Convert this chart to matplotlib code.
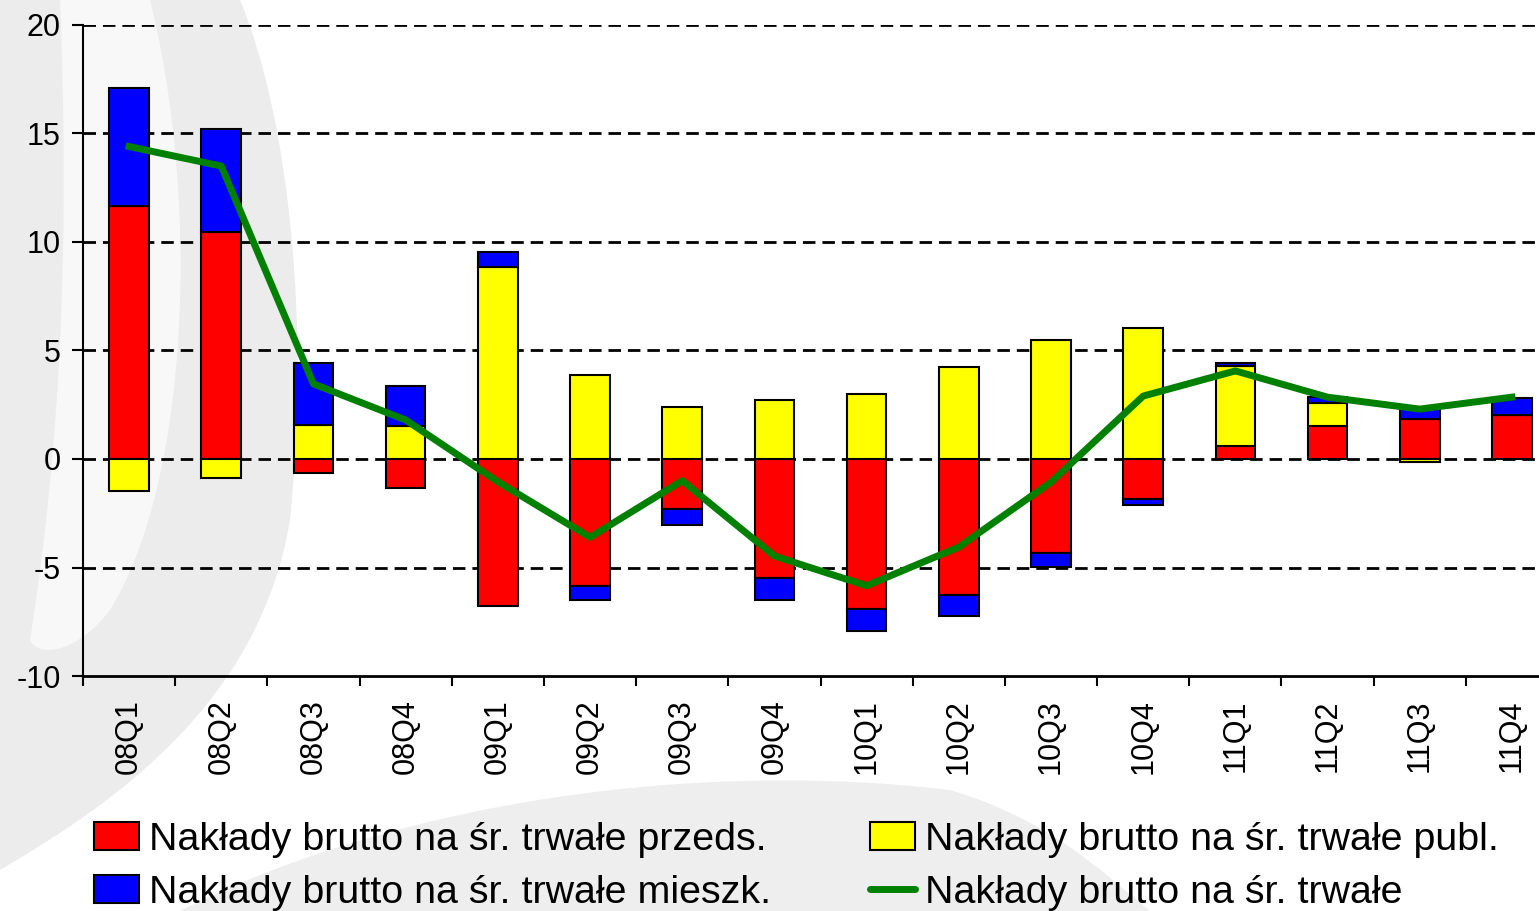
import numpy as np
import matplotlib
matplotlib.use("Agg")
import matplotlib.pyplot as plt
from matplotlib.patches import Patch, PathPatch
from matplotlib.lines import Line2D
from matplotlib.path import Path

plt.rcParams["font.family"] = ["Liberation Sans", "DejaVu Sans"]
plt.rcParams["axes.unicode_minus"] = False

# data (r/r, %)
quarters = ["08Q1", "08Q2", "08Q3", "08Q4", "09Q1", "09Q2", "09Q3", "09Q4",
            "10Q1", "10Q2", "10Q3", "10Q4", "11Q1", "11Q2", "11Q3", "11Q4"]
przeds = [11.67, 10.47, -0.64, -1.35, -6.76, -5.84, -2.30, -5.48,
          -6.91, -6.27, -4.33, -1.84, 0.61, 1.51, 1.84, 2.03]
publ = [-1.46, -0.89, 1.58, 1.53, 8.83, 3.87, 2.41, 2.73,
        3.00, 4.25, 5.48, 6.02, 3.69, 1.07, -0.12, 0.0]
mieszk = [5.43, 4.73, 2.84, 1.85, 0.72, -0.64, -0.73, -1.00,
          -1.00, -0.95, -0.63, -0.26, 0.12, 0.26, 0.56, 0.78]
ogolem = [14.4, 13.5, 3.46, 1.8, -1.05, -3.61, -1.0, -4.47,
          -5.84, -4.06, -1.07, 2.9, 4.06, 2.85, 2.3, 2.85]

labels = ["Nakłady brutto na śr. trwałe przeds.",
          "Nakłady brutto na śr. trwałe publ.",
          "Nakłady brutto na śr. trwałe mieszk.",
          "Nakłady brutto na śr. trwałe"]
colors = ["#ff0000", "#ffff00", "#0000ff"]

W, H = 1539, 911
fig = plt.figure(figsize=(W / 100, H / 100), dpi=100)


def px(x, y):
    return (x / W, 1 - y / H)


def bg_patch(segments, color):
    verts, codes = [], []
    for code, pts in segments:
        for p in pts:
            verts.append(px(*p))
        if code == "M":
            codes.append(Path.MOVETO)
        elif code == "L":
            codes.append(Path.LINETO)
        else:
            codes += [Path.CURVE4] * 3
    verts.append(verts[0])
    codes.append(Path.CLOSEPOLY)
    fig.add_artist(PathPatch(Path(verts, codes), facecolor=color,
                             edgecolor="none", transform=fig.transFigure, zorder=0))


# background swooshes (light grey)
bg_patch([("M", [(0, 0)]), ("L", [(240, 0)]),
          ("C", [(290, 120), (310, 330), (290, 520)]),
          ("C", [(260, 700), (120, 800), (0, 870)])], "#ececec")
bg_patch([("M", [(60, 0)]), ("L", [(150, 0)]),
          ("C", [(200, 200), (190, 480), (110, 610)]),
          ("C", [(80, 650), (40, 660), (30, 640)]),
          ("C", [(60, 450), (70, 250), (60, 0)])], "#f8f8f8")
bg_patch([("M", [(180, 911)]),
          ("C", [(400, 800), (700, 760), (950, 790)]),
          ("C", [(1050, 820), (1100, 870), (1150, 911)])], "#eeeeee")

ax = fig.add_axes([83 / W, 1 - 676 / H, (1558 - 83) / W, (676 - 25) / H])
ax.set_facecolor("none")

x = np.arange(len(quarters))
pos_base = np.zeros(len(x))
neg_base = np.zeros(len(x))
for vals, col in zip([przeds, publ, mieszk], colors):
    v = np.array(vals)
    base = np.where(v >= 0, pos_base, neg_base)
    ax.bar(x, v, bottom=base, width=0.43, color=col, edgecolor="black",
           linewidth=1.5, zorder=3)
    pos_base += np.where(v >= 0, v, 0)
    neg_base += np.where(v < 0, v, 0)

ax.plot(x, ogolem, color="#008000", linewidth=5, zorder=4,
        solid_joinstyle="round")

ax.set_xlim(-0.5, 15.5)
ax.set_ylim(-10, 20)
ax.set_yticks([-10, -5, 0, 5, 10, 15, 20])
ax.set_xticks(x)
ax.set_xticklabels(quarters, rotation=90, fontsize=22)
ax.set_xticks(np.arange(len(x) + 1) - 0.5, minor=True)
ax.tick_params(axis="x", which="major", length=0, pad=17)
ax.tick_params(axis="x", which="minor", length=7, width=1.5, direction="out")
ax.tick_params(axis="y", labelsize=22, length=8, width=1.5, direction="out", pad=8)

# dashed gridlines
for yv in [-5, 0, 5, 10, 15, 20]:
    ax.axhline(yv, color="black", linewidth=2, linestyle=(0, (4.5, 2.5)), zorder=1)

for s in ["top", "right"]:
    ax.spines[s].set_visible(False)
ax.spines["left"].set_linewidth(1.5)
ax.spines["bottom"].set_linewidth(2)

handles = [Patch(facecolor=colors[0], edgecolor="black", linewidth=1.5),
           Patch(facecolor=colors[2], edgecolor="black", linewidth=1.5),
           Patch(facecolor=colors[1], edgecolor="black", linewidth=1.5),
           Line2D([0], [0], color="#008000", linewidth=5, solid_capstyle="round")]
leg_labels = [labels[0], labels[2], labels[1], labels[3]]
fig.legend(handles, leg_labels, loc="upper left", bbox_to_anchor=px(94, 822),
           ncol=2, frameon=False, fontsize=28.4, borderpad=0, borderaxespad=0,
           handlelength=1.15, handleheight=0.72, handletextpad=0.25,
           columnspacing=2.5, labelspacing=0.43)

fig.savefig("out.png", dpi=100)
